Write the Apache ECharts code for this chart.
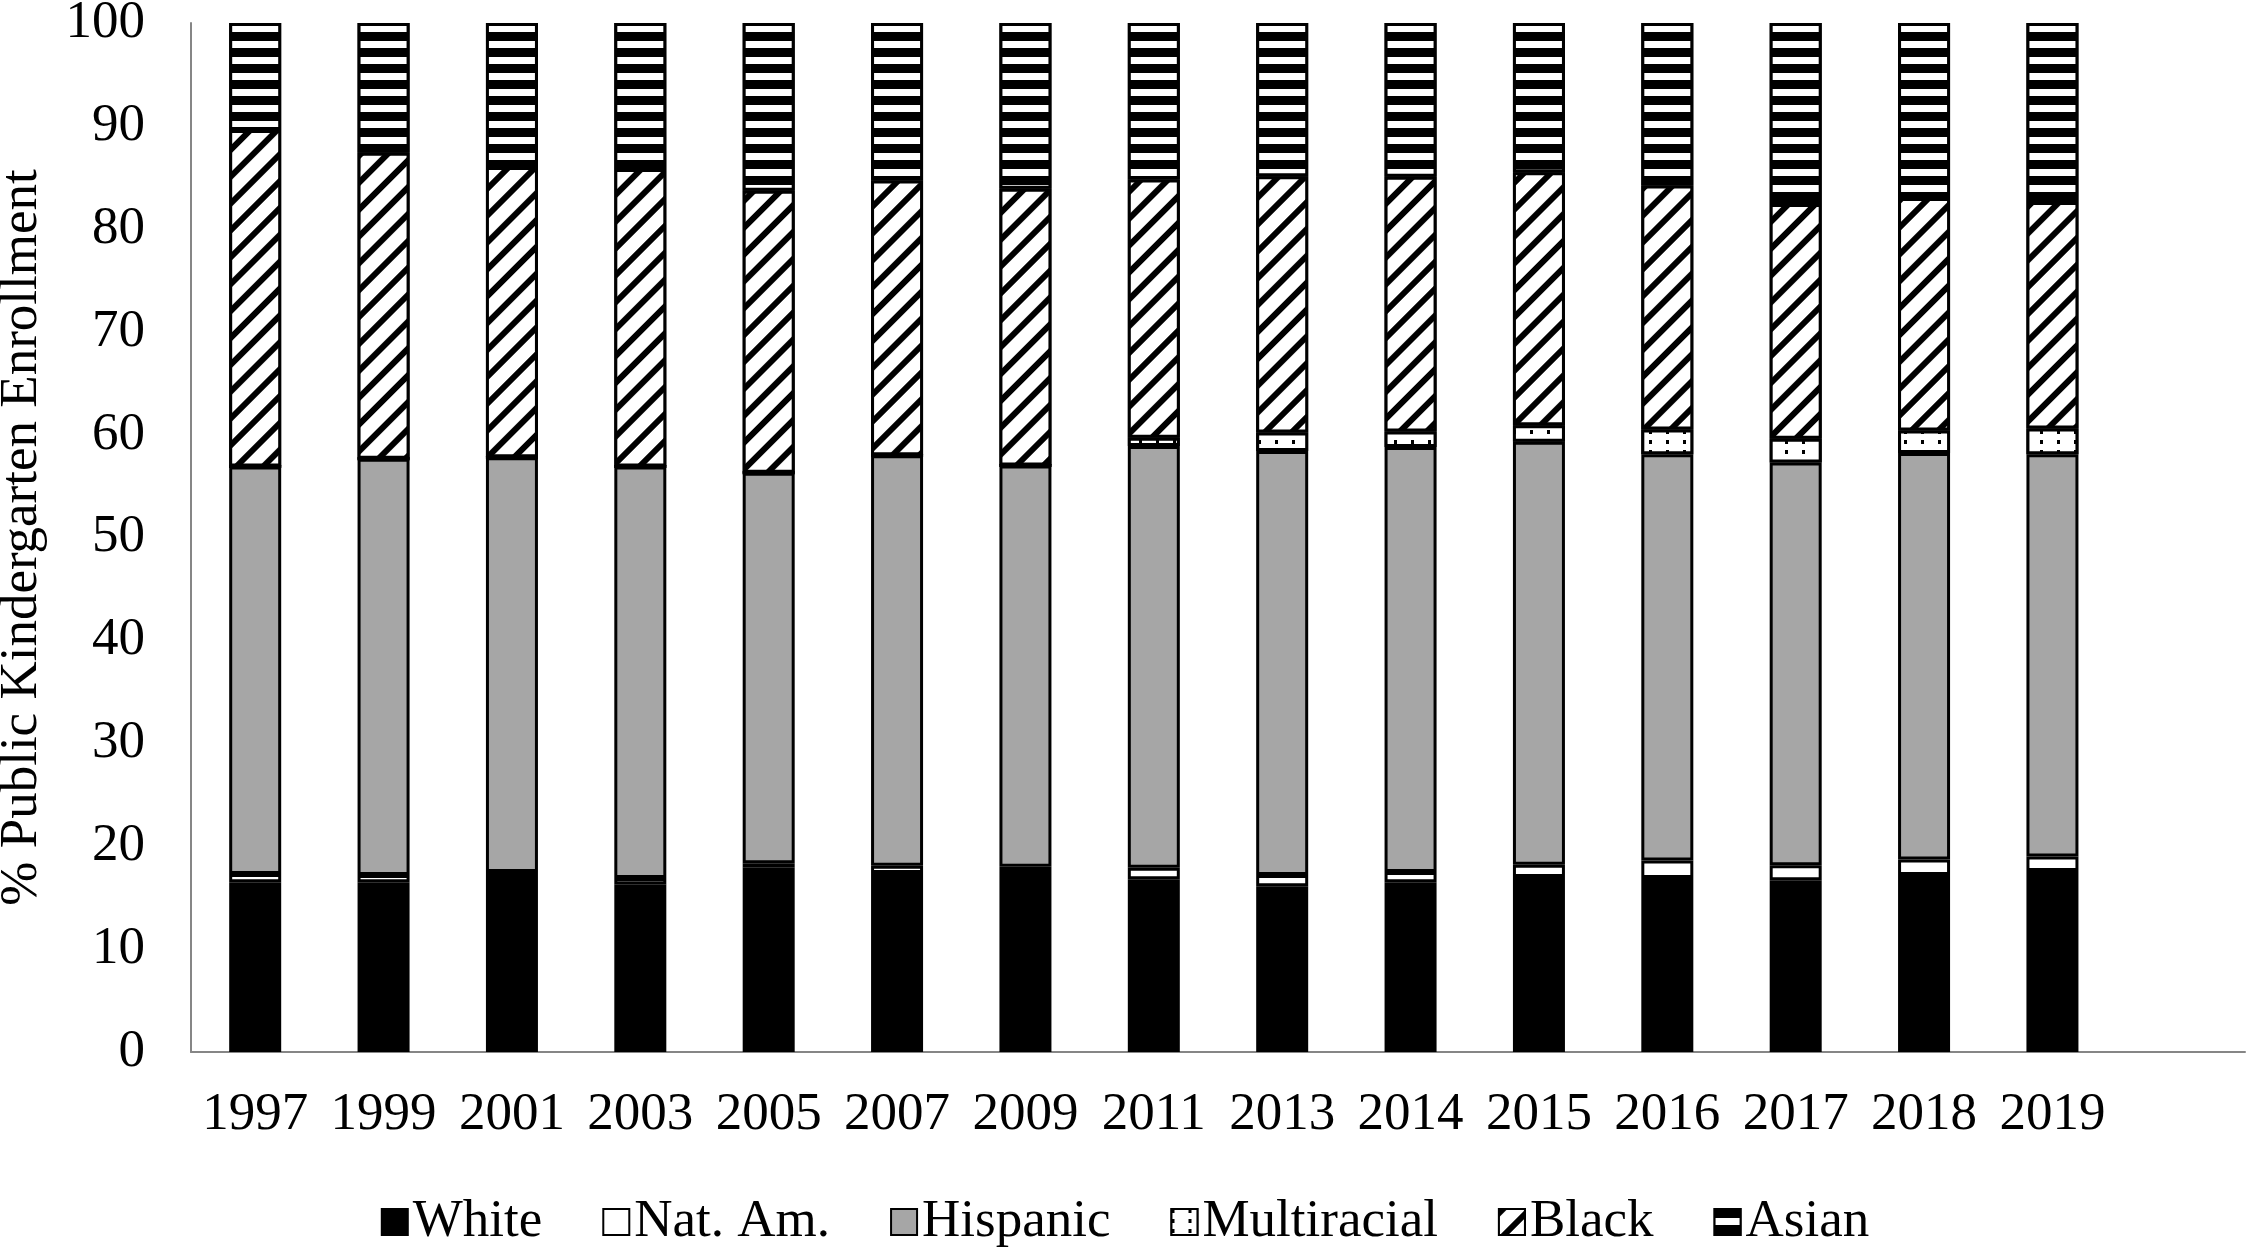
<!DOCTYPE html>
<html>
<head>
<meta charset="utf-8">
<script src="https://cdn.jsdelivr.net/npm/echarts@6/dist/echarts.min.js"></script>
<style>
  html, body { margin: 0; padding: 0; background: #ffffff; }
  #chart { width: 2250px; height: 1252px; }
</style>
</head>
<body>
<div id="chart"></div>
<script>
const years = ['1997','1999','2001','2003','2005','2007','2009','2011','2013','2014','2015','2016','2017','2018','2019'];
const white       = [16.5, 16.5, 17.0, 16.3, 17.9, 17.4, 17.5, 16.8, 16.1, 16.5, 17.0, 16.9, 16.7, 17.2, 17.6];
const natAm       = [0.8, 0.7, 0.5, 0.6, 0.45, 0.7, 0.5, 1.1, 1.1, 1.0, 1.2, 1.7, 1.45, 1.5, 1.4];
const hispanic    = [39.6, 40.45, 40.3, 40.0, 37.95, 39.9, 39.0, 41.0, 41.2, 41.3, 41.1, 39.5, 39.15, 39.5, 39.1];
const multiracial = [0, 0, 0, 0, 0, 0, 0, 0.8, 1.8, 1.5, 1.6, 2.4, 2.3, 2.2, 2.5];
const black       = [32.7, 29.75, 28.2, 28.9, 27.4, 26.7, 26.9, 25.1, 24.9, 24.75, 24.6, 23.7, 22.8, 22.6, 22.0];
const asian       = [10.4, 12.6, 14.0, 14.2, 16.3, 15.3, 16.1, 15.2, 14.9, 14.95, 14.5, 15.8, 17.6, 17.0, 17.4];
const yTicks = { min: 0, max: 100, interval: 10 };
const yTitle = '% Public Kindergarten Enrollment';

const FONT = "'Liberation Serif', 'Times New Roman', serif";
const border = { borderColor: '#000000', borderWidth: 3 };

function bar(name, data, itemStyle) {
  return {
    name: name,
    type: 'bar',
    stack: 'total',
    data: data,
    barWidth: 52,
    itemStyle: Object.assign({}, border, itemStyle),
    emphasis: { disabled: true }
  };
}

const chart = echarts.init(document.getElementById('chart'), null, { renderer: 'canvas' });
chart.setOption({
  backgroundColor: '#ffffff',
  animation: false,
  grid: { left: 191, right: 5, top: 23, bottom: 200, containLabel: false, outerBoundsMode: 'none' },
  legend: {
    bottom: 2,
    left: 'center',
    padding: 0,
    icon: 'rect',
    itemWidth: 26,
    itemHeight: 26,
    itemGap: 60,
    textStyle: { fontFamily: FONT, fontSize: 53, color: '#000000', lineHeight: 56 },
    data: ['White', 'Nat. Am.', 'Hispanic', 'Multiracial', 'Black', 'Asian']
  },
  xAxis: {
    type: 'category',
    data: years.concat(['']),
    axisLine: { show: true, lineStyle: { color: '#868686', width: 2 } },
    axisTick: { show: false },
    axisLabel: { interval: 0, fontFamily: FONT, fontSize: 53, color: '#000000', margin: 36, lineHeight: 54 }
  },
  yAxis: {
    type: 'value',
    min: yTicks.min,
    max: yTicks.max,
    interval: yTicks.interval,
    name: yTitle,
    nameLocation: 'middle',
    nameRotate: 90,
    nameGap: 142,
    nameTextStyle: { fontFamily: FONT, fontSize: 53, color: '#000000' },
    axisLine: { show: true, lineStyle: { color: '#868686', width: 2 } },
    axisTick: { show: false },
    splitLine: { show: false },
    axisLabel: { fontFamily: FONT, fontSize: 53, color: '#000000', margin: 46 }
  },
  series: [
    bar('White', white, { color: '#000000' }),
    bar('Nat. Am.', natAm, { color: '#ffffff' }),
    bar('Hispanic', hispanic, { color: '#a6a6a6' }),
    bar('Multiracial', multiracial, {
      color: '#ffffff',
      decal: { symbol: 'rect', symbolSize: 1, color: '#000000', backgroundColor: '#ffffff',
               dashArrayX: [3, 14], dashArrayY: [4, 6], rotation: 0 }
    }),
    bar('Black', black, {
      color: '#ffffff',
      decal: { symbol: 'rect', symbolSize: 1, color: '#000000', backgroundColor: '#ffffff',
               dashArrayX: [1, 0], dashArrayY: [6, 13], rotation: -Math.PI / 4 }
    }),
    bar('Asian', asian, {
      color: '#ffffff',
      decal: { symbol: 'rect', symbolSize: 1, color: '#000000', backgroundColor: '#ffffff',
               dashArrayX: [1, 0], dashArrayY: [9, 7], rotation: 0 }
    })
  ]
});
</script>
</body>
</html>
